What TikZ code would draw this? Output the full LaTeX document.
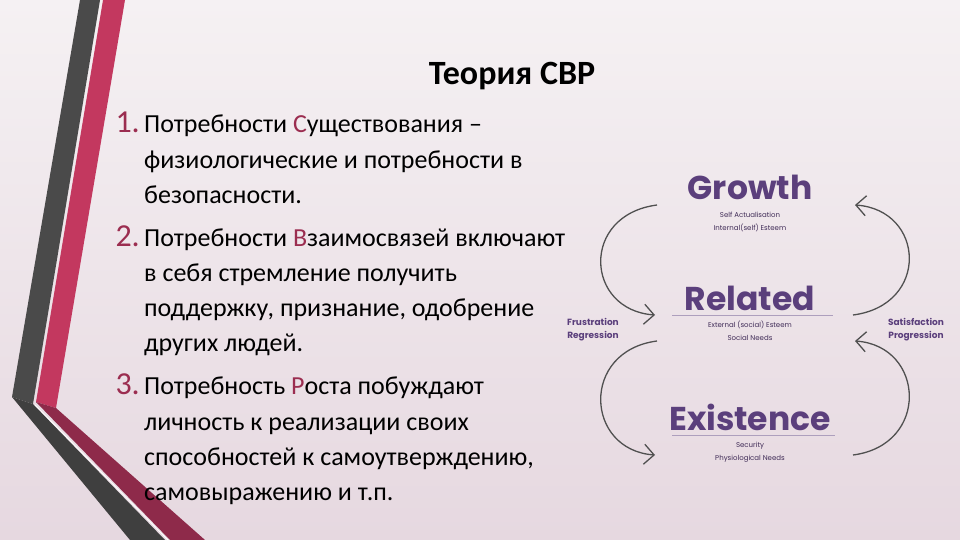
\documentclass[tikz,border=0pt]{standalone}
\usepackage{fontspec}
\setmainfont{Carlito}
\newfontfamily\dsans{Poppins}
\usetikzlibrary{arrows.meta}
\definecolor{bgA}{HTML}{F5F1F3}
\definecolor{bgB}{HTML}{E6D8E0}
\definecolor{gband}{HTML}{4A4A4A}
\definecolor{pband}{HTML}{C3385F}
\definecolor{pdark}{HTML}{8E2A4A}
\definecolor{numc}{HTML}{9B2D50}
\definecolor{purp}{HTML}{5B3F7C}
\definecolor{arcc}{HTML}{505050}
\tikzset{
 item/.style={anchor=base west,inner sep=0pt,font=\fontsize{26}{28}\selectfont,text=black},
 num/.style={anchor=base east,inner sep=0pt,font=\fontsize{32}{32}\selectfont,text=numc},
 big/.style={anchor=base,inner sep=0pt,font=\dsans\bfseries\fontsize{33}{33}\selectfont,text=purp},
 tiny/.style={anchor=base,inner sep=0pt,font=\dsans\fontsize{7}{8}\selectfont,text=purp!70!black},
 side/.style={anchor=base,inner sep=0pt,font=\dsans\bfseries\fontsize{9}{10}\selectfont,text=purp},
 arc/.style={draw=arcc,line width=1.3pt,-{Straight Barb[length=10pt,width=20pt,line width=1.3pt]}}
}
\newcommand{\hl}[1]{\textcolor{numc}{#1}}
\begin{document}
\begin{tikzpicture}[x=1pt,y=-1pt]
\useasboundingbox (0,0) rectangle (960,540);
\shade[top color=bgA,bottom color=bgB] (0,0) rectangle (960,540);
% bands
\fill[gband] (80,0) -- (100,0) -- (33,404) -- (12,397) -- cycle;
\fill[gband!85!black] (12,397) -- (33,404) -- (165,540) -- (130,540) -- cycle;
\fill[pband] (103,0) -- (125,0) -- (56,408) -- (36,402) -- cycle;
\fill[pdark] (36,402) -- (56,408) -- (205,540) -- (170,540) -- cycle;
\draw[white,line width=0.8pt] (35,405) -- (168,540);
% title
\node[anchor=base,inner sep=0pt,font=\bfseries\fontsize{34}{34}\selectfont] (title) at (512,85) {Теория СВР};
% list
\node[num] (n1) at (140,133) {1.};
\node[item] (l1a) at (144,133) {Потребности \hl{С}уществования –};
\node[item] (l1b) at (144,169) {физиологические и потребности в};
\node[item] (l1c) at (144,204) {безопасности.};
\node[num] (n2) at (140,246) {2.};
\node[item] (l2a) at (144,246) {Потребности \hl{В}заимосвязей включают};
\node[item] (l2b) at (144,281) {в себя стремление получить};
\node[item] (l2c) at (144,316) {поддержку, признание, одобрение};
\node[item] (l2d) at (144,351) {других людей.};
\node[num] (n3) at (140,394) {3.};
\node[item] (l3a) at (144,394) {Потребность \hl{Р}оста побуждают};
\node[item] (l3b) at (144,430) {личность к реализации своих};
\node[item] (l3c) at (144,465) {способностей к самоутверждению,};
\node[item] (l3d) at (144,500) {самовыражению и т.п.};
% diagram
\node[big] (gr) at (750,199) {Growth};
\node[tiny] (g1) at (750,217) {Self Actualisation};
\node[tiny] (g2) at (750,230) {Internal(self) Esteem};
\node[big] (re) at (750,310) {Related};
\draw[purp!50,line width=0.6pt] (672,315) -- (833,315);
\node[tiny] (r1) at (750,327) {External (social) Esteem};
\node[tiny] (r2) at (750,340) {Social Needs};
\node[big] (ex) at (750,430) {Existence};
\draw[purp!50,line width=0.6pt] (672,435) -- (835,435);
\node[tiny] (e1) at (750,447) {Security};
\node[tiny] (e2) at (750,460) {Physiological Needs};
\node[side] (f1) at (593,325) {Frustration};
\node[side] (f2) at (593,338) {Regression};
\node[side] (s1) at (916,325) {Satisfaction};
\node[side] (s2) at (916,338) {Progression};
\coordinate (a1) at (657,205); \coordinate (a2) at (655,315);
\coordinate (b1) at (657,341); \coordinate (b2) at (655,455);
\coordinate (c1) at (853,315); \coordinate (c2) at (855,205);
\coordinate (d1) at (853,455); \coordinate (d2) at (855,341);
\draw[arc] (a1) .. controls (580,215) and (585,310) .. (a2);
\draw[arc] (b1) .. controls (580,351) and (585,450) .. (b2);
\draw[arc] (c1) .. controls (930,305) and (925,210) .. (c2);
\draw[arc] (d1) .. controls (930,445) and (925,346) .. (d2);
\end{tikzpicture}
\end{document}
